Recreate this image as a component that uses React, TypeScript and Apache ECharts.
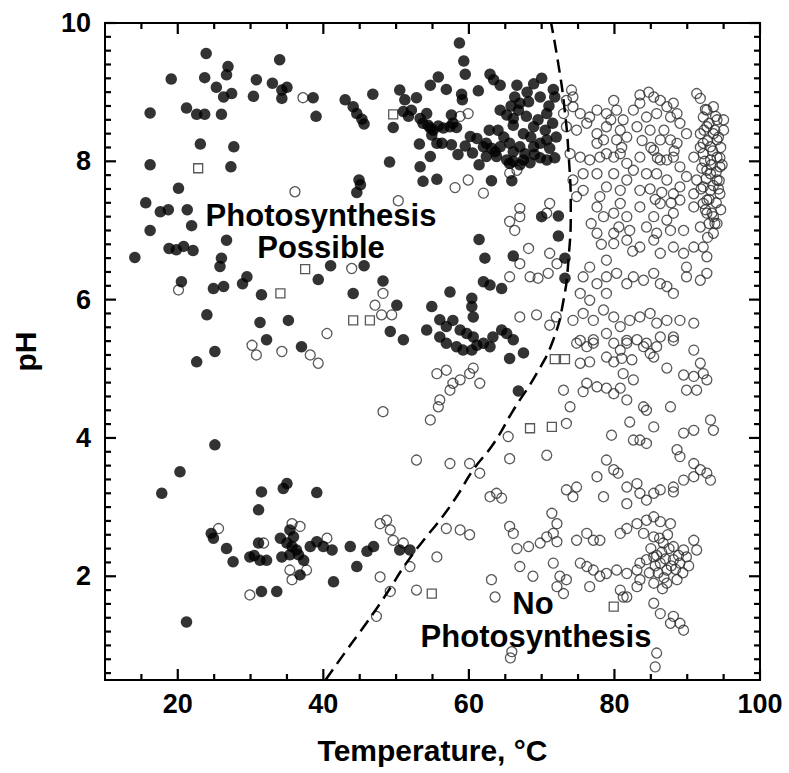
import React, { useEffect, useRef } from 'react';
import * as echarts from 'echarts';

// Filled circles: photosynthesis observed
const photosynthesisPossible: number[][] = [
  [23.9,9.56],[34.0,9.47],[19.1,9.19],[23.7,9.21],[26.9,9.37],[26.7,9.25],[25.3,9.07],[26.3,8.93],[27.4,8.98],
  [30.8,9.18],[30.4,8.94],[33.0,9.13],[34.3,9.03],[35.0,9.07],[34.3,8.91],[38.6,8.92],[39.0,8.65],[16.2,8.70],
  [21.2,8.77],[22.6,8.68],[23.7,8.68],[26.0,8.68],[23.1,8.25],[27.7,8.21],[16.2,7.95],[27.3,7.92],[20.1,7.61],
  [15.6,7.40],[17.6,7.27],[18.7,7.30],[21.3,7.30],[21.9,7.07],[16.2,7.00],[18.8,6.74],[19.8,6.72],[20.8,6.77],
  [22.1,6.71],[26.7,6.86],[14.1,6.61],[26.0,6.60],[25.8,6.48],[20.5,6.26],[24.9,6.16],[26.3,6.19],[29.5,6.33],
  [28.9,6.23],[31.5,6.07],[24.0,5.78],[31.3,5.67],[35.2,5.70],[41.0,6.49],[39.3,6.29],[45.6,6.49],[48.2,6.27],
  [44.1,6.09],[50.1,5.92],[54.9,5.90],[49.2,5.54],[51.0,5.42],[54.2,5.56],[32.2,5.42],[37.0,5.32],[25.1,5.25],
  [22.6,5.10],
  [44.9,7.73],[45.1,7.66],[44.6,7.55],[46.8,8.97],[43.0,8.89],[44.1,8.79],[44.6,8.69],[45.3,8.61],[45.6,8.54],
  [50.5,9.03],[51.2,8.89],[52.8,8.92],[51.0,8.72],[52.1,8.74],[54.7,9.10],[55.8,9.22],[53.3,8.62],[53.7,8.55],
  [54.7,8.48],[54.2,8.69],[49.6,8.49],[55.6,8.26],[53.2,8.25],[54.7,8.07],[53.3,7.92],[49.1,7.99],[53.7,7.71],
  [55.6,7.74],
  [58.7,9.71],[59.3,9.45],[59.5,9.26],[56.9,9.04],[62.9,9.26],[63.4,9.18],[64.3,9.10],[61.3,9.02],[59.0,8.97],
  [59.1,8.89],[66.6,9.10],[68.9,9.12],[70.0,9.20],[71.6,9.04],[71.8,8.93],[66.3,8.93],[67.0,8.84],[68.2,8.86],
  [69.8,8.93],[66.8,8.74],[67.9,8.65],[66.1,8.62],[64.3,8.74],[65.2,8.67],[70.7,8.69],[57.6,8.67],[57.8,8.55],
  [51.7,8.65],[54.4,8.52],[55.1,8.45],[55.8,8.51],[56.5,8.48],[57.4,8.50],[58.3,8.49],[54.9,8.38],[64.0,8.45],
  [66.1,8.52],[67.5,8.40],[68.9,8.50],[56.3,8.26],[57.6,8.24],[59.5,8.22],[61.1,8.33],[60.2,8.36],
  [62.4,8.26],[63.1,8.19],[64.3,8.21],[65.6,8.26],[66.1,8.14],[67.0,8.21],[67.7,8.11],[68.9,8.21],[69.8,8.26],
  [70.7,8.31],[71.1,8.19],[62.4,8.07],[63.8,8.07],[65.2,8.02],[66.1,8.00],[67.5,8.02],[68.4,7.98],[69.8,8.05],
  [70.7,8.02],[63.6,8.14],[62.0,8.21],[61.4,7.95],[65.6,7.97],[67.0,7.95],[63.1,7.72],[65.9,7.72],
  [68.5,8.35],[69.5,8.60],[70.5,8.45],[71.5,8.55],[71.0,8.80],[72.0,8.35],[71.8,8.05],[69.0,8.10],[64.8,8.35],
  [62.8,8.45],[60.5,8.12],[58.5,8.10],[65.8,8.80],[68.0,9.00],
  [70.0,7.20],[72.3,7.21],[72.3,6.92],[61.4,6.87],[62.2,6.60],[66.1,6.63],[73.2,6.60],[73.2,6.31],[62.0,6.26],
  [62.9,6.21],[64.5,6.16],[57.4,6.11],[60.4,6.02],[60.4,5.90],[60.6,5.75],
  [56.0,5.71],[56.9,5.61],[57.8,5.70],[58.8,5.56],[59.7,5.51],[60.6,5.46],[62.0,5.37],[63.3,5.46],[65.2,5.51],
  [66.1,5.42],[64.5,5.56],[65.6,5.15],[67.5,5.23],[66.8,4.68],[62.9,5.32],[60.4,5.27],[61.1,5.34],[56.9,5.37],
  [58.3,5.32],[59.2,5.27],[56.0,5.46],
  [25.1,3.90],[20.3,3.51],[17.8,3.20],[31.5,3.22],[34.5,3.27],[35.0,3.34],[39.1,3.21],[31.1,2.96],
  [24.9,2.55],[26.7,2.40],[27.6,2.21],[29.9,2.28],[31.1,2.48],[31.3,2.23],[32.2,2.23],[34.1,2.55],[35.4,2.67],
  [35.9,2.57],[35.7,2.43],[35.4,2.31],[36.6,2.31],[36.8,2.02],[38.2,2.43],[39.1,2.50],[40.0,2.43],[41.2,2.38],
  [41.4,1.92],[43.7,2.43],[44.6,2.14],[46.0,2.36],[46.9,2.43],[50.5,2.38],[51.9,2.38],[31.5,1.78],[33.6,1.78],
  [21.2,1.34],[35.0,2.48],[36.3,2.38],[34.3,2.28],[37.3,2.23],[24.6,2.62],[30.5,2.30]
];

// Open circles: no photosynthesis observed
const noPhotosynthesis: number[][] = [
  [37.2,8.92],[36.1,7.56],[50.3,7.43],[20.1,6.14],[43.9,6.45],[48.2,6.09],[47.1,5.92],[48.0,5.78],[49.4,5.78],
  [40.5,5.51],[30.2,5.34],[59.9,8.69],[58.8,8.65],[58.1,7.62],[59.9,7.73],[62.0,7.54],[65.6,7.83],[66.6,7.87],
  [30.8,5.20],[34.3,5.25],[38.2,5.20],[39.3,5.08],[48.2,4.38],[54.7,4.26],[52.8,3.68],[55.6,4.93],[55.8,4.45],
  [25.6,2.69],[35.7,2.76],[36.8,2.72],[31.8,2.48],[35.4,2.09],[37.7,2.09],[35.7,1.95],[29.9,1.73],[40.5,2.55],
  [47.8,2.76],[48.7,2.81],[49.2,2.67],[49.6,2.52],[51.0,2.48],[47.8,1.99],[49.2,1.78],[47.3,1.42],[51.9,2.14],
  [52.8,1.80],[55.6,2.28],
  [67.0,7.32],[65.6,7.13],[66.3,7.00],[67.0,7.20],[71.1,7.39],[70.7,7.25],[68.2,6.74],[67.0,6.52],[71.1,6.67],
  [72.1,6.52],[70.9,6.38],[68.4,6.33],[69.5,6.31],[65.6,6.33],[67.0,5.75],[69.3,5.78],[71.1,5.63],[72.0,5.75],
  [56.9,4.98],[57.8,4.79],[58.8,4.84],[60.1,4.93],[60.6,5.01],[56.0,4.55],[57.4,4.69],[61.5,4.79],[65.4,4.02],
  [57.4,3.63],[60.1,3.63],[61.5,3.49],[62.9,3.15],[63.8,3.20],[64.5,3.13],[56.9,2.69],[58.8,2.67],[60.1,2.60],
  [65.6,3.70],[70.7,3.75],[65.7,0.82],[85.6,0.69],
  [74.1,9.03],[74.3,8.93],[73.4,8.88],[79.9,8.88],[83.5,8.96],[84.7,9.00],[85.4,8.93],[86.3,8.88],[88.1,8.84],
  [88.6,8.69],[91.3,8.98],[91.8,8.91],
  [73.0,8.69],[74.3,8.79],[75.3,8.69],[76.6,8.64],[77.6,8.74],[78.9,8.69],[80.3,8.74],[81.2,8.60],[82.6,8.74],
  [83.5,8.84],[84.4,8.64],[85.8,8.69],[87.2,8.79],[87.7,8.64],[89.0,8.55],[92.7,8.74],[93.6,8.79],[94.1,8.60],
  [95.0,8.60],[92.2,8.64],
  [73.4,8.50],[74.8,8.45],[76.2,8.55],[77.6,8.40],[78.5,8.31],[80.8,8.45],[81.7,8.35],[83.1,8.50],[84.9,8.45],
  [86.3,8.31],[87.7,8.31],[88.6,8.26],[89.9,8.40],[91.8,8.40],[92.7,8.50],[93.6,8.40],[94.1,8.31],[95.0,8.45],
  [92.2,8.26],[93.2,8.21],
  [73.9,8.11],[75.3,8.06],[76.6,8.02],[78.0,8.06],[78.9,8.11],[80.8,8.11],[81.7,7.97],[83.5,8.06],[85.4,8.16],
  [86.3,8.02],[87.2,8.02],[88.1,8.06],[89.0,7.92],[90.9,8.06],[92.2,8.11],[93.2,8.02],[94.1,8.06],[94.5,7.92],
  [92.7,7.87],
  [74.3,7.73],[75.7,7.82],[77.6,7.82],[78.9,7.63],[79.9,7.82],[81.7,7.73],[82.6,7.87],[84.4,7.82],[85.8,7.82],
  [87.2,7.73],[89.0,7.63],[89.9,7.78],[91.3,7.73],[92.2,7.63],[93.2,7.58],[94.1,7.73],[94.5,7.53],[92.7,7.44],
  [90.9,7.53],[88.1,7.53],[83.5,7.58],[80.8,7.58],[78.0,7.49],[75.7,7.58],[74.8,7.49],
  [77.6,7.34],[78.5,7.20],[79.9,7.25],[80.8,7.39],[81.7,7.20],[83.5,7.34],[85.4,7.20],[86.3,7.39],[87.2,7.15],
  [88.1,7.25],[89.0,7.44],[90.9,7.34],[92.2,7.39],[92.7,7.25],[93.6,7.20],[94.1,7.10],[77.6,6.96],[79.9,6.96],
  [82.1,7.00],[84.4,7.05],[85.8,6.96],[87.7,7.00],[89.5,7.00],[91.8,7.05],[93.6,6.96],
  [78.9,8.50],[80.3,8.31],[77.6,8.26],[79.9,8.06],[81.0,8.20],[79.5,8.60],[83.8,8.30],[85.0,8.20],[86.8,8.45],
  [88.2,8.15],[85.9,8.05],[84.9,7.60],[86.5,7.55],[87.8,7.40],[85.6,7.45],[76.8,7.10],[78.2,6.80],[80.6,7.05],
  [82.5,6.70],
  [79.9,6.81],[81.7,6.86],[83.5,6.76],[85.4,6.86],[86.3,6.67],[88.1,6.76],[89.5,6.67],[90.9,6.76],[92.2,6.76],
  [92.7,6.62],[89.9,6.47],[78.9,6.57],[76.6,6.47],[75.7,6.33],
  [77.6,6.23],[78.9,6.33],[80.3,6.38],[81.7,6.23],[82.6,6.33],[84.0,6.28],[85.4,6.38],[86.3,6.23],[87.2,6.19],
  [88.1,6.09],[89.9,6.33],[91.8,6.28],[92.7,6.38],[75.3,6.09],[76.6,5.99],[78.9,6.09],
  [74.3,5.70],[75.7,5.80],[77.1,5.70],[78.5,5.85],[79.9,5.75],[80.8,5.61],[82.1,5.70],[83.5,5.75],[84.9,5.80],
  [85.8,5.66],[87.2,5.70],[89.0,5.70],[90.9,5.66],[75.3,5.41],[77.1,5.37],[78.9,5.51],[81.7,5.41],[84.4,5.37],
  [86.3,5.46],[88.1,5.41],
  [92.5,8.75],[93.0,8.55],[93.8,8.45],[94.3,8.35],[92.8,8.30],[93.5,8.15],[94.6,8.20],[92.4,8.00],[93.3,7.95],
  [94.0,7.85],[94.8,7.95],[92.6,7.75],[93.6,7.65],[94.3,7.60],[93.0,7.45],[94.0,7.40],[92.5,7.30],[93.4,7.25],
  [94.6,7.30],[93.0,7.10],[92.0,7.90],[91.8,8.20],[93.9,8.65],[94.5,8.05],[92.3,8.45],[93.2,7.82],[94.4,7.72],
  [91.9,7.60],[93.8,7.10],[92.8,6.90],
  [74.8,5.37],[76.2,5.32],[77.1,5.42],[79.9,5.37],[80.8,5.27],[81.7,5.37],[83.1,5.42],[84.0,5.32],[84.9,5.22],
  [85.8,5.32],[88.1,5.46],[90.9,5.27],[75.3,5.08],[76.6,5.10],[78.9,5.17],[79.9,5.10],
  [81.0,5.15],[82.4,5.13],[85.4,5.17],[87.2,5.01],[89.5,4.91],[90.9,4.89],[91.8,5.08],[92.2,4.93],[92.7,4.84],
  [89.9,4.69],[91.3,4.69],
  [76.2,4.79],[77.6,4.74],[78.9,4.72],[79.9,4.64],[80.8,4.72],[73.0,4.69],[73.9,4.45],[75.7,4.67],[81.7,4.55],
  [82.6,4.84],[81.2,4.93],[84.0,4.45],[84.4,4.40],[85.4,4.16],[87.7,4.45],
  [73.4,4.21],[79.6,4.04],[82.1,4.23],[82.6,3.97],[83.5,3.97],[84.4,3.92],[89.5,4.07],
  [90.9,4.11],[93.2,4.26],[93.6,4.11],[88.6,3.83],[89.0,3.73],[90.9,3.63],[91.8,3.54],[92.7,3.49],[93.2,3.39],
  [90.9,3.44],[89.5,3.39],[88.1,3.29],[88.1,3.22],
  [78.9,3.68],[77.6,3.44],[79.9,3.54],[80.5,3.49],[81.7,3.29],[83.1,3.34],[83.5,3.20],[84.4,3.10],[85.4,3.20],
  [86.3,3.25],[73.4,3.25],[74.8,3.29],[74.3,3.15],[78.5,3.15],[81.7,3.05],
  [71.4,2.91],[72.1,2.76],[71.6,2.62],[72.1,2.50],[70.7,2.57],[69.8,2.48],[68.2,2.43],[66.6,2.40],[65.6,2.72],
  [66.1,2.62],[76.2,2.62],[77.1,2.52],[78.0,2.52],[74.8,2.52],[80.8,2.62],[81.7,2.69],[83.1,2.76],[84.4,2.81],
  [85.4,2.86],[86.3,2.79],[87.7,2.76],[84.0,2.62],[85.4,2.57],[86.7,2.48],[88.1,2.43],[89.5,2.38],[90.9,2.52],
  [91.3,2.38],
  [67.0,2.14],[68.8,2.00],[71.6,2.19],[72.5,2.00],[73.4,1.95],[75.3,2.19],[76.2,2.14],[77.1,2.09],[78.0,2.00],
  [78.9,2.04],[80.3,2.09],[81.7,2.04],[83.1,2.09],[83.5,2.19],[84.4,2.24],[85.4,2.28],[86.3,2.19],[87.2,2.09],
  [88.1,2.24],[89.0,2.19],[89.9,2.28],[83.5,1.95],[85.4,1.90],[87.2,1.90],[76.6,1.85],[72.1,1.85],[73.0,1.75],
  [63.1,1.95],[63.6,1.70],[80.8,1.80],[81.7,1.70],[83.1,1.85],
  [81.2,1.70],[85.4,1.61],[86.3,1.46],[88.1,1.42],[89.0,1.32],[89.5,1.22],[87.7,1.32],[85.8,0.89],[65.9,0.91],
  [85.0,2.40],[85.8,2.30],[86.5,2.35],[87.0,2.25],[87.5,2.40],[88.4,2.10],[86.0,2.05],[86.8,1.98],[87.8,2.15],
  [85.6,2.15],[88.8,2.30],[89.4,2.05],[86.2,2.55],[87.3,2.60],[84.8,2.05],[90.2,2.15],[88.6,1.95],[86.6,1.82]
];

// Open squares
const noPhotosynthesisSquares: number[][] = [
  [22.8,7.90],[49.6,8.68],[37.5,6.44],[34.1,6.09],[44.1,5.70],[46.4,5.70],[71.8,5.14],[73.2,5.14],
  [68.4,4.14],[71.4,4.16],[54.9,1.75],[79.9,1.56]
];

// Dashed boundary curve (temperature limit vs pH)
const boundaryCurve: number[][] = [
  [40.3,0.5],[43.2,0.93],[45.9,1.32],[48.7,1.75],[51.4,2.19],[54.0,2.55],[56.0,2.81],[58.3,3.15],[60.6,3.54],
  [63.4,3.92],[66.1,4.40],[69.3,4.93],[71.6,5.42],[73.0,5.99],[73.7,6.6],[74.0,7.3],[73.7,8.1],[73.1,8.8],
  [72.3,9.4],[71.3,10.0]
];

const xMajorTicks = [20, 40, 60, 80, 100];
const xMinorTicks = [15, 25, 30, 35, 45, 50, 55, 65, 70, 75, 85, 90, 95];
const yMajorTicks = [2, 4, 6, 8, 10];
const yMinorTicks = [
  0.6, 0.8, 1.0, 1.2, 1.4, 1.6, 1.8, 2.2, 2.4, 2.6, 2.8, 3.0, 3.2, 3.4, 3.6, 3.8,
  4.2, 4.4, 4.6, 4.8, 5.0, 5.2, 5.4, 5.6, 5.8, 6.2, 6.4, 6.6, 6.8, 7.0, 7.2, 7.4, 7.6, 7.8,
  8.2, 8.4, 8.6, 8.8, 9.0, 9.2, 9.4, 9.6, 9.8
];

const X_MIN = 10, X_MAX = 100, Y_MIN = 0.5, Y_MAX = 10;
const FONT = '"Liberation Sans", Arial, Helvetica, sans-serif';

// Tick lengths in pixels
const TICK_MAJOR = 11, TICK_MINOR = 6;

export default function App() {
  const ref = useRef<HTMLDivElement>(null);
  useEffect(() => {
    if (!ref.current) return;
    const chart = echarts.init(ref.current, undefined, { renderer: 'svg' });
    const lineStyle = { color: '#000', width: 2 };
    const labelStyle = { fontSize: 27, fontWeight: 'bold', color: '#000', fontFamily: FONT };
    const nameStyle = { fontSize: 30, fontWeight: 'bold', color: '#000', fontFamily: FONT };
    const textStyle = (text: string) => ({
      text, font: `bold 31px ${FONT}`, fill: '#000',
      textAlign: 'center', align: 'center', textVerticalAlign: 'middle', verticalAlign: 'middle'
    });

    const option: any = {
      animation: false,
      backgroundColor: '#fff',
      grid: {
        left: 105, top: 23, width: 655, height: 657, containLabel: false, outerBoundsMode: 'none',
        show: true, borderColor: '#000', borderWidth: 2, backgroundColor: 'transparent'
      },
      xAxis: {
        type: 'value', min: X_MIN, max: X_MAX, position: 'bottom', splitLine: { show: false },
        axisLine: { show: true, onZero: false, lineStyle },
        axisTick: { show: false },
        axisLabel: { show: true, customValues: xMajorTicks, margin: 10, ...labelStyle },
        name: 'Temperature, °C', nameLocation: 'middle', nameGap: 55, nameTextStyle: nameStyle
      },
      yAxis: {
        type: 'value', min: Y_MIN, max: Y_MAX, position: 'left', splitLine: { show: false },
        axisLine: { show: true, onZero: false, lineStyle },
        axisTick: { show: false },
        axisLabel: { show: true, customValues: yMajorTicks, margin: 14, ...labelStyle },
        name: 'pH', nameLocation: 'middle', nameGap: 65, nameTextStyle: nameStyle
      },
      series: [
        {
          name: 'No photosynthesis', type: 'scatter',
          data: noPhotosynthesis, symbol: 'circle', symbolSize: 10, silent: true,
          itemStyle: { color: 'rgba(255,255,255,0)', borderColor: '#2e2e2e', borderWidth: 1.3 }, z: 2
        },
        {
          name: 'No photosynthesis (squares)', type: 'scatter',
          data: noPhotosynthesisSquares, symbol: 'rect', symbolSize: 9, silent: true,
          itemStyle: { color: 'rgba(255,255,255,0)', borderColor: '#2e2e2e', borderWidth: 1.3 }, z: 2
        },
        {
          name: 'Photosynthesis', type: 'scatter',
          data: photosynthesisPossible, symbol: 'circle', symbolSize: 11.5, silent: true,
          itemStyle: { color: '#000' }, z: 3
        },
        {
          name: 'Boundary', type: 'line',
          data: boundaryCurve, smooth: true, showSymbol: false, symbol: 'none', silent: true,
          lineStyle: { color: '#000', width: 2.5, type: [13, 7] }, z: 4
        }
      ]
    };
    chart.setOption(option);

    // Inward tick marks on all four sides, placed through the chart's own axis scales
    const px = (x: number, y: number) => chart.convertToPixel({ xAxisIndex: 0, yAxisIndex: 0 }, [x, y]) as number[];
    const tickShapes: any[] = [];
    const tickStyle = { stroke: '#000', lineWidth: 2.2, fill: null };
    const addX = (vals: number[], len: number) => vals.forEach((v) => {
      const b = px(v, Y_MIN);
      const t = px(v, Y_MAX);
      tickShapes.push({ type: 'polyline', silent: true, z: 50, shape: { points: [[b[0], b[1]], [b[0], b[1] - len]] }, style: tickStyle });
      tickShapes.push({ type: 'polyline', silent: true, z: 50, shape: { points: [[t[0], t[1]], [t[0], t[1] + len]] }, style: tickStyle });
    });
    const addY = (vals: number[], len: number) => vals.forEach((v) => {
      const l = px(X_MIN, v);
      const r = px(X_MAX, v);
      tickShapes.push({ type: 'polyline', silent: true, z: 50, shape: { points: [[l[0], l[1]], [l[0] + len, l[1]]] }, style: tickStyle });
      tickShapes.push({ type: 'polyline', silent: true, z: 50, shape: { points: [[r[0], r[1]], [r[0] - len, r[1]]] }, style: tickStyle });
    });
    addX(xMajorTicks, TICK_MAJOR);
    addX(xMinorTicks, TICK_MINOR);
    addY(yMajorTicks, TICK_MAJOR);
    addY(yMinorTicks, TICK_MINOR);

    chart.setOption({
      graphic: {
        elements: [
          { type: 'group', silent: true, z: 50, children: tickShapes },
          { type: 'text', x: 321, y: 215, silent: true, z: 30, style: textStyle('Photosynthesis') },
          { type: 'text', x: 321, y: 247, silent: true, z: 30, style: textStyle('Possible') },
          { type: 'text', x: 533, y: 603, silent: true, z: 30, style: textStyle('No') },
          { type: 'text', x: 536, y: 636, silent: true, z: 30, style: textStyle('Photosynthesis') }
        ]
      }
    });
    return () => chart.dispose();
  }, []);
  return (
    <div
      ref={ref}
      style={{ position: 'absolute', left: 0, top: 0, width: 789, height: 773, background: '#fff' }}
    />
  );
}
